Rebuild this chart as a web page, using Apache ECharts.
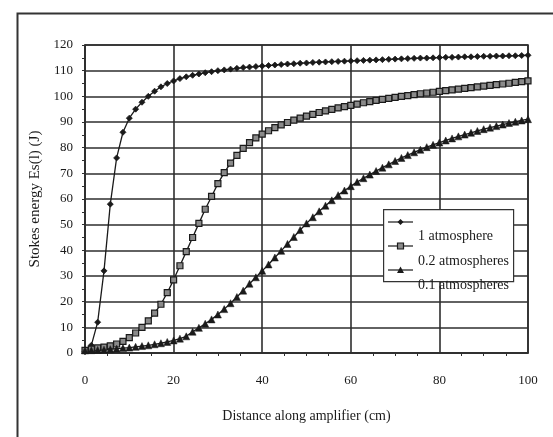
<!DOCTYPE html>
<html>
<head>
<meta charset="utf-8">
<script src="https://cdn.jsdelivr.net/npm/echarts@6/dist/echarts.min.js"></script>
<style>
  html, body { margin: 0; padding: 0; background: #fff; }
  #chart { width: 553px; height: 437px; }
</style>
</head>
<body>
<div id="chart"></div>
<script>
// Distance along the amplifier (cm) at each sample
const distance = [0, 1.43, 2.86, 4.29, 5.71, 7.14, 8.57, 10, 11.43, 12.86, 14.29, 15.71, 17.14, 18.57, 20,
  21.43, 22.86, 24.29, 25.71, 27.14, 28.57, 30, 31.43, 32.86, 34.29, 35.71, 37.14, 38.57, 40,
  41.43, 42.86, 44.29, 45.71, 47.14, 48.57, 50, 51.43, 52.86, 54.29, 55.71, 57.14, 58.57, 60,
  61.43, 62.86, 64.29, 65.71, 67.14, 68.57, 70, 71.43, 72.86, 74.29, 75.71, 77.14, 78.57, 80,
  81.43, 82.86, 84.29, 85.71, 87.14, 88.57, 90, 91.43, 92.86, 94.29, 95.71, 97.14, 98.57, 100];

// Stokes energy (J) at 1 atmosphere
const atm1 = [0.5, 3, 12, 32, 58, 76, 86, 91.5, 95, 97.7, 100, 102, 103.7, 105, 106,
  106.9, 107.6, 108.2, 108.7, 109.2, 109.6, 110, 110.3, 110.6, 110.9, 111.2, 111.4, 111.6, 111.8,
  112.0, 112.2, 112.4, 112.6, 112.7, 112.9, 113.0, 113.2, 113.3, 113.4, 113.5, 113.6, 113.7, 113.8,
  113.9, 114.0, 114.1, 114.2, 114.3, 114.4, 114.5, 114.6, 114.7, 114.8, 114.9, 114.9, 115.0, 115.1,
  115.2, 115.2, 115.3, 115.4, 115.4, 115.5, 115.6, 115.6, 115.7, 115.7, 115.8, 115.8, 115.9, 116.0];

// Stokes energy (J) at 0.2 atmospheres
const atm02 = [1, 1.5, 2, 2.3, 2.8, 3.5, 4.5, 6, 7.8, 10, 12.5, 15.5, 19, 23.5, 28.5,
  34, 39.5, 45, 50.5, 56, 61, 66, 70.3, 74, 77, 79.7, 82, 83.8, 85.3,
  86.6, 87.8, 88.9, 89.8, 90.7, 91.5, 92.3, 93.0, 93.7, 94.3, 94.9, 95.5, 96.0, 96.5,
  97.0, 97.5, 97.9, 98.4, 98.8, 99.2, 99.6, 100.0, 100.3, 100.7, 101.0, 101.3, 101.6, 101.9,
  102.2, 102.5, 102.8, 103.1, 103.4, 103.7, 104.0, 104.3, 104.6, 104.8, 105.1, 105.4, 105.7, 106.0];

// Stokes energy (J) at 0.1 atmospheres
const atm01 = [1, 1.1, 1.2, 1.3, 1.5, 1.7, 1.9, 2.1, 2.4, 2.7, 3.0, 3.4, 3.8, 4.3, 4.9,
  5.6, 6.5, 8.3, 9.8, 11.4, 13.1, 15.0, 17.1, 19.4, 21.8, 24.3, 27, 29.5, 32,
  34.5, 37.2, 39.8, 42.5, 45.2, 47.9, 50.5, 52.9, 55.2, 57.4, 59.5, 61.5, 63.3, 65.0,
  66.6, 68.1, 69.5, 70.9, 72.2, 73.5, 74.8, 76.0, 77.1, 78.2, 79.2, 80.2, 81.1, 82.0,
  82.8, 83.6, 84.4, 85.1, 85.8, 86.5, 87.2, 87.8, 88.4, 89.0, 89.6, 90.1, 90.6, 91.1];

const seriesNames = ['1 atmosphere', '0.2 atmospheres', '0.1 atmospheres'];

const FONT = '"Liberation Serif", "DejaVu Serif", serif';
const INK = '#1a1a1a';
const GRID = '#2e2e2e';

function pairs(ys) { return ys.map((y, i) => [distance[i], y]); }

const chart = echarts.init(document.getElementById('chart'), null, { renderer: 'canvas' });

chart.setOption({
  backgroundColor: '#fff',
  animation: false,
  grid: { left: 85, right: 25, top: 45, bottom: 84, show: true, borderColor: GRID, borderWidth: 1.6, backgroundColor: 'transparent' },
  xAxis: {
    type: 'value', min: 0, max: 100, interval: 20,
    name: 'Distance along amplifier (cm)', nameLocation: 'middle', nameGap: 56,
    nameTextStyle: { fontFamily: FONT, fontSize: 14, color: INK },
    axisLine: { show: true, onZero: false, lineStyle: { color: GRID, width: 1.6 } },
    axisTick: { show: false },
    minorTick: { show: true, splitNumber: 4, length: 3, lineStyle: { color: GRID } },
    axisLabel: { fontFamily: FONT, fontSize: 13, color: INK, margin: 21 },
    splitLine: { show: true, lineStyle: { color: GRID, width: 1.6 } }
  },
  yAxis: {
    type: 'value', min: 0, max: 120, interval: 10,
    name: 'Stokes energy Es(l) (J)', nameLocation: 'middle', nameGap: 36, nameRotate: 90,
    nameTextStyle: { fontFamily: FONT, fontSize: 15, color: INK },
    axisLine: { show: true, lineStyle: { color: GRID, width: 1.6 } },
    axisTick: { show: true, length: 3, lineStyle: { color: GRID } },
    minorTick: { show: true, splitNumber: 2, length: 3, lineStyle: { color: GRID } },
    axisLabel: { fontFamily: FONT, fontSize: 13, color: INK, margin: 12 },
    splitLine: { show: true, lineStyle: { color: GRID, width: 1.6 } }
  },
  series: [
    {
      name: seriesNames[0], type: 'line', data: pairs(atm1),
      symbol: 'diamond', symbolSize: 6,
      lineStyle: { color: INK, width: 1.3 },
      itemStyle: { color: INK, borderColor: INK, borderWidth: 0.8 }
    },
    {
      name: seriesNames[1], type: 'line', data: pairs(atm02),
      symbol: 'rect', symbolSize: 6,
      lineStyle: { color: INK, width: 1.3 },
      itemStyle: { color: '#8a8a8a', borderColor: INK, borderWidth: 1.2 }
    },
    {
      name: seriesNames[2], type: 'line', data: pairs(atm01),
      symbol: 'triangle', symbolSize: 7,
      lineStyle: { color: INK, width: 1.3 },
      itemStyle: { color: INK, borderColor: INK, borderWidth: 0.5 }
    }
  ],
  graphic: [
    // outer frame around the figure
    { type: 'rect', left: 15, top: 11, shape: { width: 600, height: 500 }, style: { fill: 'none', stroke: '#333', lineWidth: 2 }, z: 10 },
    // legend box
    { type: 'rect', left: 383, top: 209, shape: { width: 130, height: 72 }, style: { fill: '#fff', stroke: '#333', lineWidth: 1.2 }, z: 20 },
    { type: 'line', shape: { x1: 388, y1: 222, x2: 413, y2: 222 }, style: { stroke: INK, lineWidth: 1.2 }, z: 21 },
    { type: 'polygon', shape: { points: [[400.5, 219], [403.5, 222], [400.5, 225], [397.5, 222]] }, style: { fill: INK }, z: 21 },
    { type: 'line', shape: { x1: 388, y1: 246, x2: 413, y2: 246 }, style: { stroke: INK, lineWidth: 1.2 }, z: 21 },
    { type: 'rect', shape: { x: 397.5, y: 243, width: 6, height: 6 }, style: { fill: '#8a8a8a', stroke: INK, lineWidth: 1.2 }, z: 21 },
    { type: 'line', shape: { x1: 388, y1: 270, x2: 413, y2: 270 }, style: { stroke: INK, lineWidth: 1.2 }, z: 21 },
    { type: 'polygon', shape: { points: [[400.5, 266.5], [404, 273], [397, 273]] }, style: { fill: INK }, z: 21 },
    { type: 'text', left: 418, top: 229, style: { text: seriesNames[0], font: '14px ' + FONT, fill: INK }, z: 22 },
    { type: 'text', left: 418, top: 254, style: { text: seriesNames[1], font: '14px ' + FONT, fill: INK }, z: 22 },
    { type: 'text', left: 418, top: 278, style: { text: seriesNames[2], font: '14px ' + FONT, fill: INK }, z: 22 }
  ]
});
</script>
</body>
</html>
